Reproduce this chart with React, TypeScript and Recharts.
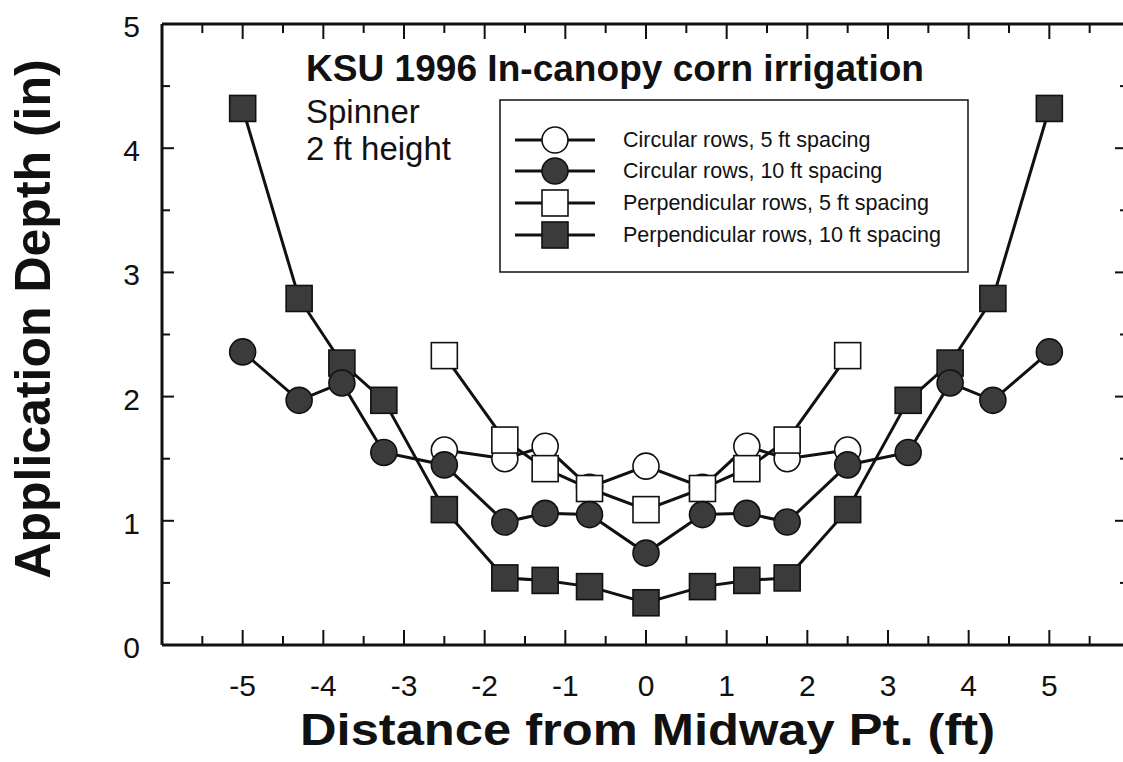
import { LineChart, Line, XAxis, YAxis } from 'recharts';

// distance from midway point (ft)
const xWide = [-5, -4.3, -3.77, -3.25, -2.5, -1.75, -1.25, -0.7, 0, 0.7, 1.25, 1.75, 2.5, 3.25, 3.77, 4.3, 5];
const xNarrow = [-2.5, -1.75, -1.25, -0.7, 0, 0.7, 1.25, 1.75, 2.5];

// application depth (in)
const circular5 = [1.57, 1.5, 1.6, 1.27, 1.44, 1.27, 1.6, 1.5, 1.57];
const circular10 = [2.36, 1.97, 2.11, 1.55, 1.45, 0.99, 1.06, 1.05, 0.74, 1.05, 1.06, 0.99, 1.45, 1.55, 2.11, 1.97, 2.36];
const perpendicular5 = [2.33, 1.65, 1.42, 1.26, 1.09, 1.26, 1.42, 1.65, 2.33];
const perpendicular10 = [4.32, 2.79, 2.27, 1.97, 1.09, 0.54, 0.52, 0.47, 0.34, 0.47, 0.52, 0.54, 1.09, 1.97, 2.27, 2.79, 4.32];

// every half foot gets a tick, whole feet get a label
const xTicks = [-5.5, -5, -4.5, -4, -3.5, -3, -2.5, -2, -1.5, -1, -0.5, 0, 0.5, 1, 1.5, 2, 2.5, 3, 3.5, 4, 4.5, 5, 5.5];
const yTicks = [0, 0.5, 1, 1.5, 2, 2.5, 3, 3.5, 4, 4.5, 5];

const FONT = '"Liberation Sans", Arial, Helvetica, sans-serif';
const INK = '#111';
const DARK = '#3b3b3b';

const CHART_W = 1140;
const CHART_H = 762;
const MARGIN = { top: 24, right: 10, bottom: 77, left: 102 };
const X_AXIS_H = 40;
const Y_AXIS_W = 60;
const PLOT_W = CHART_W - MARGIN.left - MARGIN.right - Y_AXIS_W;
const PLOT_H = CHART_H - MARGIN.top - MARGIN.bottom - X_AXIS_H;

const toPoints = (xs: number[], ys: number[]) => xs.map((x, i) => ({ x, y: ys[i] }));

const makeDot = (shape: 'circle' | 'square', fill: string) => (props: any) => {
  const { cx, cy, index } = props;
  if (cx == null || cy == null) return <g key={index} />;
  if (shape === 'circle') {
    return <circle key={index} cx={cx} cy={cy} r={13} fill={fill} stroke={INK} strokeWidth={1.6} />;
  }
  return <rect key={index} x={cx - 13} y={cy - 13} width={26} height={26} fill={fill} stroke={INK} strokeWidth={1.6} />;
};

// bottom axis tick: inward marks on bottom and top frame, label on whole feet
const XTick = (props: any) => {
  const { x, y, payload } = props;
  const v = payload.value;
  const major = Number.isInteger(v);
  const len = major ? 15 : 9;
  const top = y - PLOT_H;
  return (
    <g>
      <line x1={x} x2={x} y1={y} y2={y - len} stroke={INK} strokeWidth={2} />
      <line x1={x} x2={x} y1={top} y2={top + len} stroke={INK} strokeWidth={2} />
      {major && (
        <text x={x} y={y + 51} textAnchor="middle" fontSize={30} fontFamily={FONT} fill={INK}>
          {v}
        </text>
      )}
    </g>
  );
};

// left axis tick: inward marks on left and right frame, label on whole inches
const YTick = (props: any) => {
  const { x, y, payload } = props;
  const v = payload.value;
  const major = Number.isInteger(v);
  const right = x + PLOT_W;
  return (
    <g>
      {v > 0 && v < 5 && (
        <>
          <line x1={x} x2={x + (major ? 12 : 8)} y1={y} y2={y} stroke={INK} strokeWidth={2} />
          <line x1={right} x2={right - (major ? 15 : 10)} y1={y} y2={y} stroke={INK} strokeWidth={2} />
        </>
      )}
      {major && (
        <text x={x - 22} y={y + 13} textAnchor="end" fontSize={30} fontFamily={FONT} fill={INK}>
          {v}
        </text>
      )}
    </g>
  );
};

const legendRows = [
  { label: 'Circular rows, 5 ft spacing', shape: 'circle', fill: '#fff' },
  { label: 'Circular rows, 10 ft spacing', shape: 'circle', fill: DARK },
  { label: 'Perpendicular rows, 5 ft spacing', shape: 'square', fill: '#fff' },
  { label: 'Perpendicular rows, 10 ft spacing', shape: 'square', fill: DARK },
];

function Overlay() {
  const rowY = [140, 171, 203, 235];
  return (
    <svg width={1123} height={762} style={{ position: 'absolute', left: 0, top: 0, pointerEvents: 'none' }}>
      <text x={306} y={81} fontSize={36} fontWeight="bold" fontFamily={FONT} fill={INK}
        textLength={618} lengthAdjust="spacingAndGlyphs">
        KSU 1996 In-canopy corn irrigation
      </text>
      <text x={306} y={123} fontSize={33} fontFamily={FONT} fill={INK}>Spinner</text>
      <text x={306} y={160} fontSize={33} fontFamily={FONT} fill={INK}>2 ft height</text>

      <rect x={500} y={100} width={468} height={172} fill="#fff" stroke={INK} strokeWidth={1.5} />
      {legendRows.map((r, i) => (
        <g key={r.label}>
          <line x1={515} x2={595} y1={rowY[i]} y2={rowY[i]} stroke={INK} strokeWidth={3} />
          {r.shape === 'circle' ? (
            <circle cx={555} cy={rowY[i]} r={13} fill={r.fill} stroke={INK} strokeWidth={1.6} />
          ) : (
            <rect x={542} y={rowY[i] - 13} width={26} height={26} fill={r.fill} stroke={INK} strokeWidth={1.6} />
          )}
          <text x={623} y={rowY[i] + 7} fontSize={21.5} fontFamily={FONT} fill={INK}>{r.label}</text>
        </g>
      ))}

      <text x={300} y={745} fontSize={44} fontWeight="bold" fontFamily={FONT} fill={INK}
        textLength={695} lengthAdjust="spacingAndGlyphs">
        Distance from Midway Pt. (ft)
      </text>
      <text
        x={50}
        y={319}
        textAnchor="middle"
        fontSize={50}
        fontWeight="bold"
        fontFamily={FONT}
        fill={INK}
        transform="rotate(-90, 50, 319)"
      >
        Application Depth (in)
      </text>
    </svg>
  );
}

export default function App() {
  const xDomain: [number, number] = [-6, 6];
  const yDomain: [number, number] = [0, 5];
  const frame = { stroke: INK, strokeWidth: 3 };
  return (
    <div style={{ position: 'absolute', left: 0, top: 0, width: 1123, height: 762, overflow: 'hidden', background: '#fff' }}>
      <LineChart width={CHART_W} height={CHART_H} margin={MARGIN}>
        <XAxis
          xAxisId={0}
          dataKey="x"
          type="number"
          domain={xDomain}
          ticks={xTicks}
          interval={0}
          height={X_AXIS_H}
          tickSize={0}
          tickMargin={0}
          tickLine={false}
          axisLine={frame}
          tick={<XTick />}
        />
        <XAxis xAxisId="top" orientation="top" type="number" domain={xDomain} mirror
          tick={false} tickLine={false} axisLine={frame} />
        <YAxis
          yAxisId={0}
          type="number"
          domain={yDomain}
          ticks={yTicks}
          interval={0}
          width={Y_AXIS_W}
          tickSize={0}
          tickMargin={0}
          tickLine={false}
          axisLine={frame}
          tick={<YTick />}
        />
        <YAxis yAxisId="right" orientation="right" type="number" domain={yDomain} mirror
          tick={false} tickLine={false} axisLine={frame} />

        <Line data={toPoints(xNarrow, circular5)} dataKey="y" type="linear" stroke={INK} strokeWidth={3}
          dot={makeDot('circle', '#fff')} activeDot={false} isAnimationActive={false} />
        <Line data={toPoints(xNarrow, perpendicular5)} dataKey="y" type="linear" stroke={INK} strokeWidth={3}
          dot={makeDot('square', '#fff')} activeDot={false} isAnimationActive={false} />
        <Line data={toPoints(xWide, perpendicular10)} dataKey="y" type="linear" stroke={INK} strokeWidth={3}
          dot={makeDot('square', DARK)} activeDot={false} isAnimationActive={false} />
        <Line data={toPoints(xWide, circular10)} dataKey="y" type="linear" stroke={INK} strokeWidth={3}
          dot={makeDot('circle', DARK)} activeDot={false} isAnimationActive={false} />
      </LineChart>
      <Overlay />
    </div>
  );
}
